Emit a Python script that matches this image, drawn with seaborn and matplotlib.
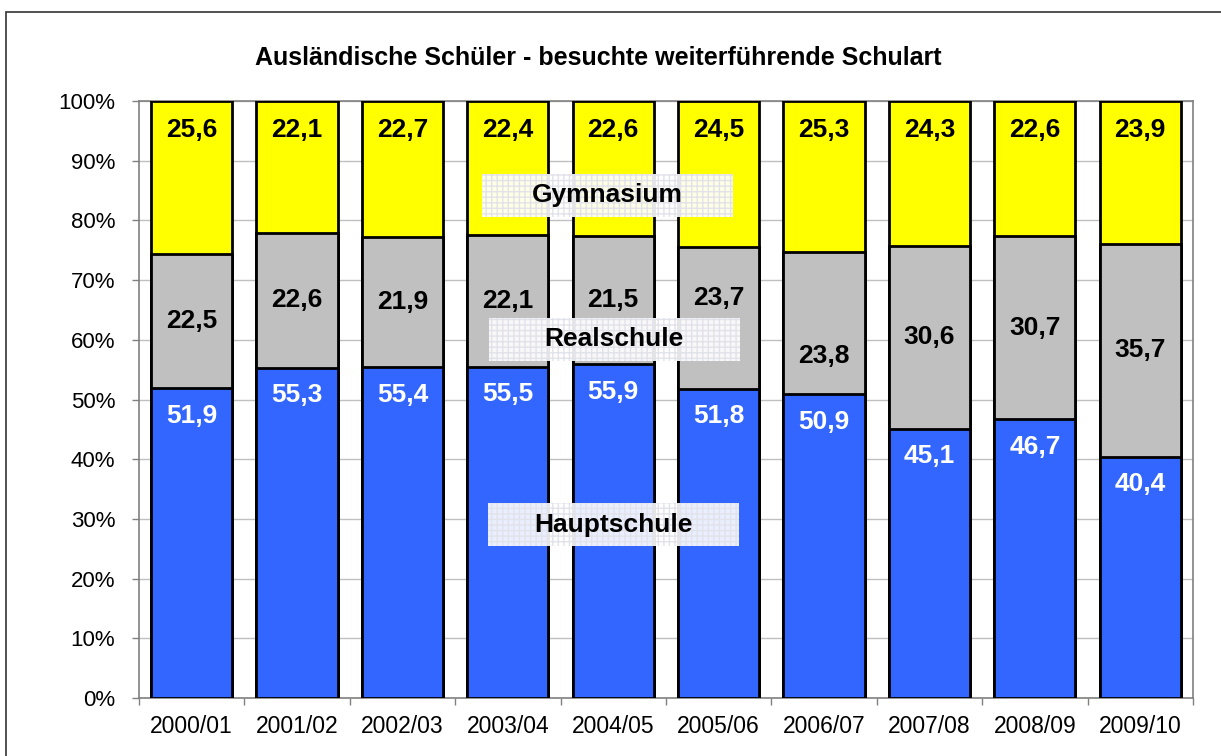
import matplotlib
matplotlib.use("Agg")
import matplotlib.pyplot as plt
import numpy as np
import pandas as pd
import seaborn as sns
from matplotlib.patches import Rectangle

years = ["2000/01", "2001/02", "2002/03", "2003/04", "2004/05",
         "2005/06", "2006/07", "2007/08", "2008/09", "2009/10"]
hauptschule = [51.9, 55.3, 55.4, 55.5, 55.9, 51.8, 50.9, 45.1, 46.7, 40.4]
realschule = [22.5, 22.6, 21.9, 22.1, 21.5, 23.7, 23.8, 30.6, 30.7, 35.7]
gymnasium = [25.6, 22.1, 22.7, 22.4, 22.6, 24.5, 25.3, 24.3, 22.6, 23.9]
series_names = ["Gymnasium", "Realschule", "Hauptschule"]

title = "Ausländische Schüler - besuchte weiterführende Schulart"

df = pd.DataFrame({"year": years, "haupt": hauptschule,
                   "real": realschule, "gym": gymnasium})
df["top_real"] = df["haupt"] + df["real"]
df["top_gym"] = df["top_real"] + df["gym"]

sns.set_theme(style="white")
plt.rcParams["font.family"] = ["Liberation Sans", "DejaVu Sans"]
plt.rcParams["text.color"] = "black"
plt.rcParams["xtick.color"] = "black"
plt.rcParams["ytick.color"] = "black"

fig = plt.figure(figsize=(12.21, 7.56), dpi=100)
ax = fig.add_axes([0.1138, 0.0767, 0.977 - 0.1138, 0.8664 - 0.0767])

# tallest first, the others on top of it
for col, colour in [("top_gym", "#FFFF00"), ("top_real", "#C0C0C0"), ("haupt", "#3366FF")]:
    sns.barplot(data=df, x="year", y=col, color=colour, saturation=1,
                edgecolor="black", linewidth=2, width=0.77, ax=ax, zorder=3)

ax.set_ylim(0, 100)
ax.set_xlim(-0.5, len(years) - 0.5)
ax.set_yticks(np.arange(0, 101, 10))
ax.set_yticklabels([f"{v}%" for v in range(0, 101, 10)])
ax.set_xlabel("")
ax.set_ylabel("")
ax.yaxis.grid(True, color="#c0c0c0", linewidth=1, zorder=0)
ax.set_axisbelow(True)

for s in ["top", "right", "left", "bottom"]:
    ax.spines[s].set_color("#808080")
    ax.spines[s].set_linewidth(1.2)

ax.tick_params(axis="y", direction="out", length=5, width=1, color="#808080",
               pad=12, labelsize=16, left=True, labelcolor="black")
ax.set_xticks(np.arange(-0.5, len(years), 1), minor=True)
ax.tick_params(axis="x", which="minor", direction="out", length=5, width=1,
               color="#808080", bottom=True)
ax.tick_params(axis="x", which="major", length=0, pad=12, labelsize=16.5,
               labelcolor="black")

# value labels
real_shift = [0, 0, 0, 0, 0, 3.3, -5.5, 0, 0, 0]
for i in range(len(years)):
    ax.text(i, df["top_gym"][i] - 4.8, f"{gymnasium[i]:.1f}".replace(".", ","),
            ha="center", va="center", fontsize=19, fontweight="bold",
            color="black", zorder=5)
    ax.text(i, df["haupt"][i] + realschule[i] / 2 + real_shift[i],
            f"{realschule[i]:.1f}".replace(".", ","),
            ha="center", va="center", fontsize=19, fontweight="bold",
            color="black", zorder=5)
    ax.text(i, df["haupt"][i] - 4.6, f"{hauptschule[i]:.1f}".replace(".", ","),
            ha="center", va="center", fontsize=19, fontweight="bold",
            color="white", zorder=5)

# series names in patterned boxes
box_pos = [(3.945, 84.2), (4.01, 60.1), (4.0, 29.0)]
box_w, box_h = 2.38, 7.2
for name, (xc, yc) in zip(series_names, box_pos):
    ax.add_patch(Rectangle((xc - box_w / 2, yc - box_h / 2), box_w, box_h,
                           facecolor="white", alpha=0.9, edgecolor="none",
                           zorder=5.5))
    ax.add_patch(Rectangle((xc - box_w / 2, yc - box_h / 2), box_w, box_h,
                           fill=False, hatch="+++", edgecolor="#e2e2ea",
                           linewidth=0, zorder=5.6))
    ax.text(xc, yc, name, ha="center", va="center", fontsize=19,
            fontweight="bold", color="black", zorder=6)

fig.text(0.49, 0.923, title, ha="center", va="center", fontsize=18,
         fontweight="bold", color="black")

# chart frame (cut at right and bottom)
fig.patches.append(Rectangle((6 / 1221, -0.2), 1.2, 0.984 + 0.2,
                             transform=fig.transFigure, fill=False,
                             edgecolor="#333333", linewidth=1.2))

fig.savefig("out.png", dpi=100)
